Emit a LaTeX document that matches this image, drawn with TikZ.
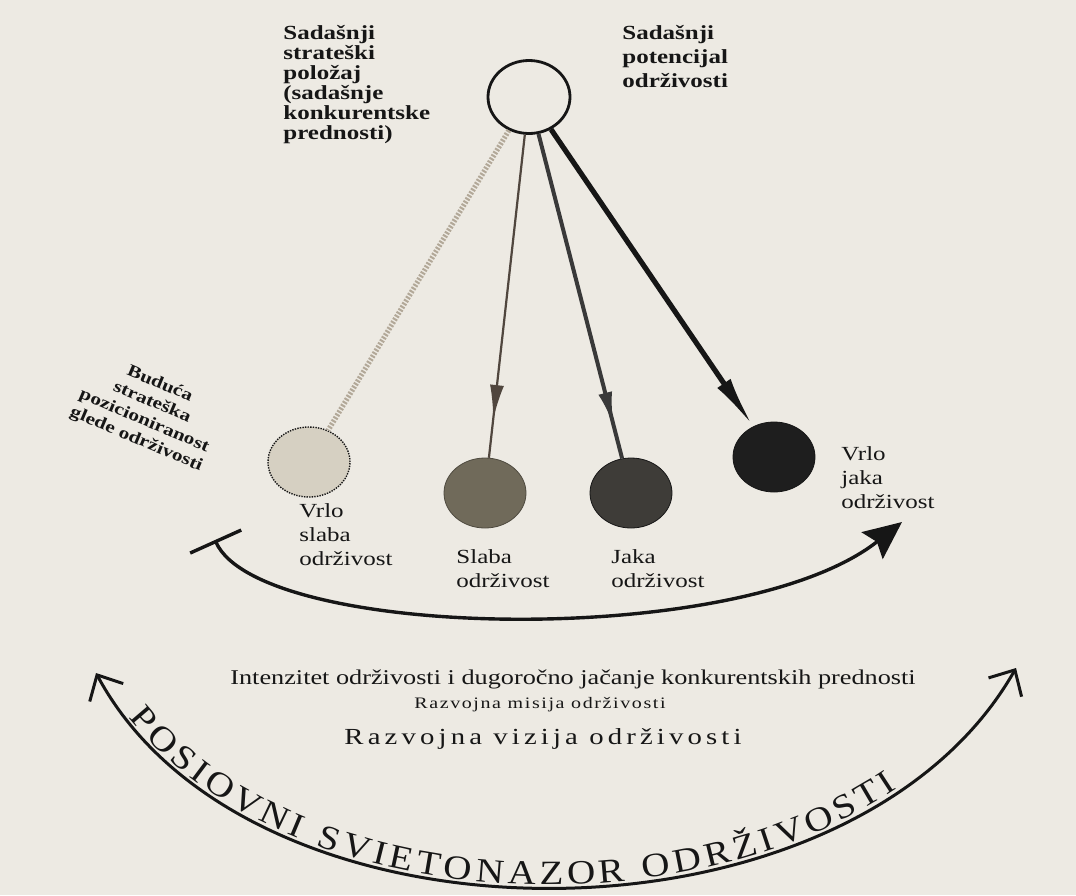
\documentclass[tikz,border=0pt]{standalone}
\usepackage{fontspec}
\setmainfont{Liberation Serif}[FakeStretch=1.25]
\newfontfamily\spacedfont{Liberation Serif}[FakeStretch=1.25,LetterSpace=18]
\newfontfamily\smallspaced{Liberation Serif}[FakeStretch=1.25,LetterSpace=10]
\newfontfamily\arcfont{Liberation Serif}[FakeStretch=1.15]
\usetikzlibrary{arrows.meta,decorations.text,decorations.markings,shapes.geometric}

\definecolor{paper}{RGB}{237,234,227}
\definecolor{ink}{RGB}{22,22,22}
\definecolor{ballpale}{RGB}{214,208,194}
\definecolor{ballmid}{RGB}{112,106,90}
\definecolor{balldark}{RGB}{62,60,56}
\definecolor{ballblack}{RGB}{30,30,30}
\definecolor{linkpale}{RGB}{178,168,152}
\definecolor{linkmid}{RGB}{80,70,62}

\begin{document}
\begin{tikzpicture}[x=0.5pt,y=-0.5pt,
    ball/.style={ellipse,draw=ink,minimum width=41pt,minimum height=35pt,inner sep=0pt},
    lab/.style={align=left,anchor=north west,inner sep=0pt,text=ink,
      font=\fontsize{10}{12}\selectfont},
    toplab/.style={lab,font=\fontsize{10}{10}\selectfont\bfseries},
    tip/.style={decoration={markings,mark=at position #1 with {\arrow{Latex[length=17pt,width=7pt]}}},
      postaction={decorate}}]
      % \draw[help lines] (0,0) grid (1076,895);
      \path[use as bounding box,fill=paper] (0,0) rectangle (1076,895);

      \draw (283,25) node[toplab] (posnow) {Sadašnji\\strateški\\položaj\\(sadašnje\\konkurentske\\prednosti)};
      \draw (622,25) node[toplab,font=\fontsize{10}{12}\selectfont\bfseries] (potnow) {Sadašnji\\potencijal\\održivosti};
      \draw (529,97) node[ball,minimum height=36.5pt,line width=1.4pt,fill=paper] (pivot) {};

      \draw (309,462) node[ball,fill=ballpale,line width=0.7pt,dash pattern=on 0.7pt off 0.6pt] (vweak) {};
      \draw (485,493) node[ball,fill=ballmid,draw=ballmid!70!black] (weak) {};
      \draw (631,493) node[ball,fill=balldark] (strong) {};
      \draw (774,457) node[ball,fill=ballblack] (vstrong) {};

      \draw[linkpale,line width=2.6pt,dash pattern=on 1pt off 0.8pt] (pivot) -- (vweak);
      \draw[linkmid,line width=1.1pt,tip=0.88] (pivot) -- (weak);
      \draw[ink!85,line width=2pt,tip=0.9] (pivot) -- (strong);
      \draw[ink,line width=2.6pt,-{Latex[length=26pt,width=8pt]}] (pivot) -- (vstrong);

      \draw (299,503) node[lab] (vweaklab) {Vrlo\\slaba\\održivost};
      \draw (456,549) node[lab] (weaklab) {Slaba\\održivost};
      \draw (611,549) node[lab] (stronglab) {Jaka\\održivost};
      \draw (841,446) node[lab] (vstronglab) {Vrlo\\jaka\\održivost};

      \draw (148,412) node[rotate=-23,align=center,inner sep=0pt,text=ink,
        font=\fontsize{8.5}{10}\selectfont\bfseries] (future) {Buduća\\strateška\\pozicioniranost\\glede održivosti};

      % scale of sustainability
      \coordinate (scaleL) at (215,540);
      \coordinate (scaleR) at (902,522);
      \draw[ink,line width=1.7pt,{Bar[width=28pt,line width=1.7pt]}-{Stealth[length=19pt,width=17pt,inset=3pt]}]
        (scaleL) .. controls (260,640) and (740,650) .. (scaleR);

      \draw (573,679) node[text=ink,font=\fontsize{10.5}{12}\selectfont] (intensity) {Intenzitet održivosti i dugoročno jačanje konkurentskih prednosti};
      \draw (540,705) node[text=ink,font=\smallspaced\fontsize{8}{10}\selectfont] (mission) {Razvojna misija održivosti};
      \draw (543,739) node[text=ink,font=\spacedfont\fontsize{11.5}{13}\selectfont] (vision) {Razvojna vizija održivosti};

      % world view arc
      \coordinate (arcL) at (96,673);
      \coordinate (arcR) at (1016,668);
      \draw[ink,line width=1.5pt,{Straight Barb[length=10pt,width=19pt,line width=1.5pt]}-{Straight Barb[length=10pt,width=19pt,line width=1.5pt]}]
        (arcL) .. controls (250,960) and (850,960) .. (arcR);
      \path[decorate,decoration={text along path,raise=1.5pt,
        text align={fit to path,left indent=28pt,right indent=86pt},
        text={|\arcfont\fontsize{17}{17}\selectfont\color{ink}|POSIOVNI SVIETONAZOR ODRŽIVOSTI}}]
        (arcL) .. controls (250,960) and (850,960) .. (arcR);
    \end{tikzpicture}
\end{document}
